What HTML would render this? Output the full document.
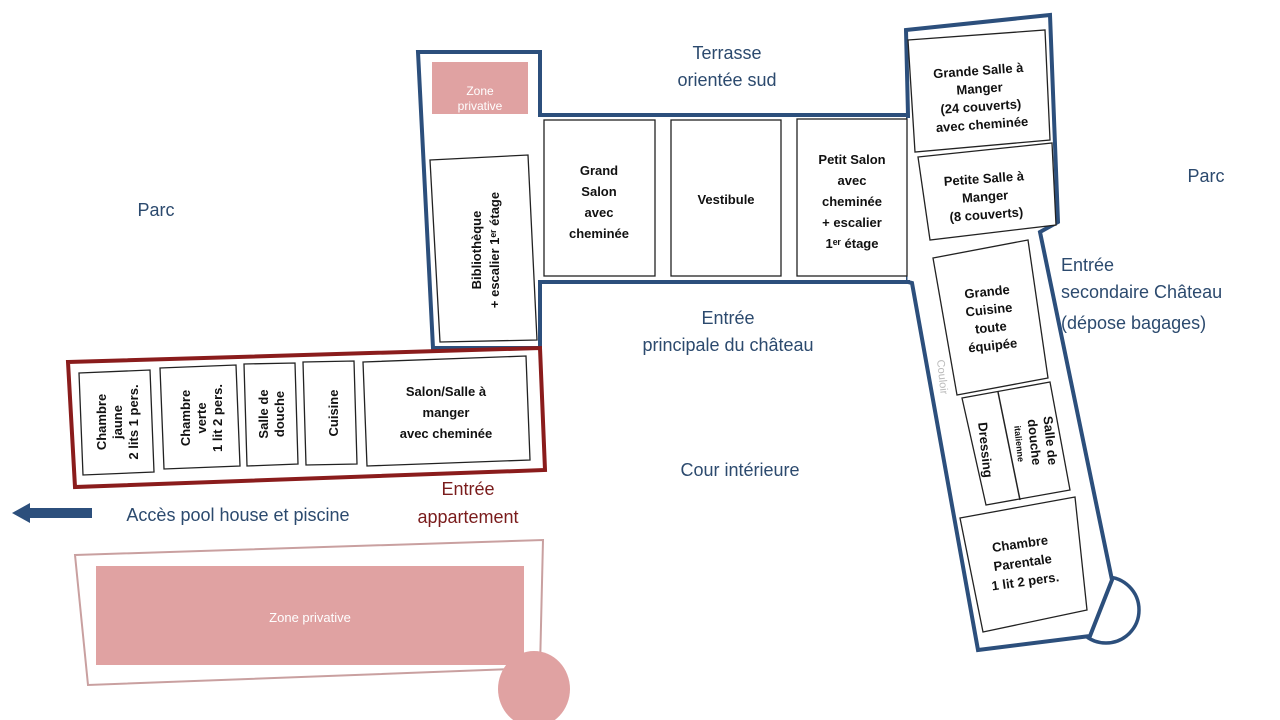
<!DOCTYPE html>
<html><head><meta charset="utf-8"><style>
html,body{margin:0;padding:0;background:#fff;}
svg{display:block;font-family:"Liberation Sans",sans-serif;}
.b{font-weight:bold;font-size:13px;fill:#111;text-anchor:middle;}
.l{font-size:18px;fill:#2c4a6e;text-anchor:middle;}
.ls{font-size:18px;fill:#2c4a6e;text-anchor:start;}
.r{font-size:18px;fill:#7a1c1c;text-anchor:middle;}
.room{fill:#fff;stroke:#222;stroke-width:1.3;}
</style></head><body>
<svg width="1280" height="720" viewBox="0 0 1280 720">
<!-- bottom private zone -->
<polygon points="75,555 543,540 540,668 88,685" fill="none" stroke="#c9a0a0" stroke-width="2"/>
<rect x="96" y="566" width="428" height="99" fill="#e0a2a2"/>
<text x="310" y="622" font-size="13" fill="#fff" text-anchor="middle">Zone privative</text>
<ellipse cx="534" cy="689" rx="36" ry="38" fill="#e0a2a2"/>

<!-- main blue outline -->
<polygon points="418,52 540,52 540,115 908,115 908,282 540,282 540,348 433,348" fill="none" stroke="#2c4f7c" stroke-width="4" stroke-linejoin="miter"/>
<!-- right wing -->
<circle cx="1106" cy="610" r="33" fill="#fff" stroke="#2c4f7c" stroke-width="3.5"/>
<polygon points="906,30 1050,15 1058,222 1040,232 1112,580 1090,636 978,650 912,283 908,282 908,115" fill="#fff" stroke="#2c4f7c" stroke-width="4" stroke-linejoin="miter"/>
<line x1="909" y1="118" x2="909" y2="280" stroke="#fff" stroke-width="3"/>

<!-- left wing rooms -->
<rect x="432" y="62" width="96" height="52" fill="#e0a2a2"/>
<text font-size="12" fill="#fff" text-anchor="middle"><tspan x="480" y="95">Zone</tspan><tspan x="480" y="110">privative</tspan></text>
<polygon class="room" points="430,160 528,155 537,340 440,342"/>
<text class="b" transform="translate(485,250) rotate(-90)"><tspan x="0" y="-4">Bibliothèque</tspan><tspan x="0" y="14">+ escalier 1ᵉʳ étage</tspan></text>
<rect class="room" x="544" y="120" width="111" height="156"/>
<text class="b"><tspan x="599" y="175">Grand</tspan><tspan x="599" y="196">Salon</tspan><tspan x="599" y="217">avec</tspan><tspan x="599" y="238">cheminée</tspan></text>
<rect class="room" x="671" y="120" width="110" height="156"/>
<text class="b" x="726" y="204">Vestibule</text>
<rect class="room" x="797" y="119" width="110" height="157"/>
<text class="b"><tspan x="852" y="164">Petit Salon</tspan><tspan x="852" y="185">avec</tspan><tspan x="852" y="206">cheminée</tspan><tspan x="852" y="227">+ escalier</tspan><tspan x="852" y="248">1ᵉʳ étage</tspan></text>

<!-- right wing rooms -->
<polygon class="room" points="908,40 1045,30 1050,140 915,152"/>
<text class="b" transform="rotate(-4 980 95)"><tspan x="980" y="75">Grande Salle à</tspan><tspan x="980" y="93">Manger</tspan><tspan x="980" y="111">(24 couverts)</tspan><tspan x="980" y="129">avec cheminée</tspan></text>
<polygon class="room" points="918,157 1052,143 1056,225 930,240"/>
<text class="b" transform="rotate(-4 985 195)"><tspan x="985" y="183">Petite Salle à</tspan><tspan x="985" y="201">Manger</tspan><tspan x="985" y="219">(8 couverts)</tspan></text>
<polygon class="room" points="933,258 1028,240 1048,378 957,395"/>
<text class="b" transform="rotate(-6 990 320)"><tspan x="990" y="296">Grande</tspan><tspan x="990" y="314">Cuisine</tspan><tspan x="990" y="332">toute</tspan><tspan x="990" y="350">équipée</tspan></text>
<polygon class="room" points="962,398 1050,382 1070,490 986,505"/>
<line x1="998" y1="392" x2="1020" y2="500" stroke="#222" stroke-width="1.5"/>
<text class="b" transform="translate(985,450) rotate(84)" x="0" y="4">Dressing</text>
<text class="b" transform="translate(1036,442) rotate(84)"><tspan x="0" y="-10">Salle de</tspan><tspan x="0" y="6">douche</tspan><tspan x="0" y="20" font-size="9">italienne</tspan></text>
<polygon class="room" points="960,518 1075,497 1087,610 983,632"/>
<text class="b" transform="rotate(-8 1023 565)"><tspan x="1023" y="548">Chambre</tspan><tspan x="1023" y="567">Parentale</tspan><tspan x="1023" y="586">1 lit 2 pers.</tspan></text>
<text transform="translate(937,360) rotate(84)" font-size="11" fill="#bbb" text-anchor="start">Couloir</text>

<!-- red building -->
<polygon points="68,362 540,348 545,470 75,487" fill="#fff" stroke="#8a1c1c" stroke-width="4"/>
<polygon class="room" points="79,373 150,370 154,472 83,475"/>
<text class="b" transform="translate(116,422) rotate(-90)"><tspan x="0" y="-10">Chambre</tspan><tspan x="0" y="6">jaune</tspan><tspan x="0" y="22">2 lits 1 pers.</tspan></text>
<polygon class="room" points="160,368 236,365 240,466 164,469"/>
<text class="b" transform="translate(200,418) rotate(-90)"><tspan x="0" y="-10">Chambre</tspan><tspan x="0" y="6">verte</tspan><tspan x="0" y="22">1 lit 2 pers.</tspan></text>
<polygon class="room" points="244,364 295,363 298,464 247,466"/>
<text class="b" transform="translate(271,414) rotate(-90)"><tspan x="0" y="-3">Salle de</tspan><tspan x="0" y="13">douche</tspan></text>
<polygon class="room" points="303,362 354,361 357,464 306,465"/>
<text class="b" transform="translate(334,413) rotate(-90)" x="0" y="4">Cuisine</text>
<polygon class="room" points="363,362 526,356 530,460 367,466"/>
<text class="b"><tspan x="446" y="396">Salon/Salle à</tspan><tspan x="446" y="417">manger</tspan><tspan x="446" y="438">avec cheminée</tspan></text>

<!-- labels -->
<text class="l" x="156" y="216">Parc</text>
<text class="l" x="1206" y="182">Parc</text>
<text class="l"><tspan x="727" y="59">Terrasse</tspan><tspan x="727" y="86">orientée sud</tspan></text>
<text class="l"><tspan x="728" y="324">Entrée</tspan><tspan x="728" y="351">principale du château</tspan></text>
<text class="ls"><tspan x="1061" y="271">Entrée</tspan><tspan x="1061" y="298">secondaire Château</tspan><tspan x="1061" y="329">(dépose bagages)</tspan></text>
<text class="l" x="740" y="476">Cour intérieure</text>
<text class="r"><tspan x="468" y="495">Entrée</tspan><tspan x="468" y="523">appartement</tspan></text>
<text class="l" x="238" y="521">Accès pool house et piscine</text>
<!-- arrow -->
<rect x="26" y="508" width="66" height="10" fill="#2c4f7c"/>
<polygon points="12,513 30,503 30,523" fill="#2c4f7c"/>
</svg>
</body></html>
